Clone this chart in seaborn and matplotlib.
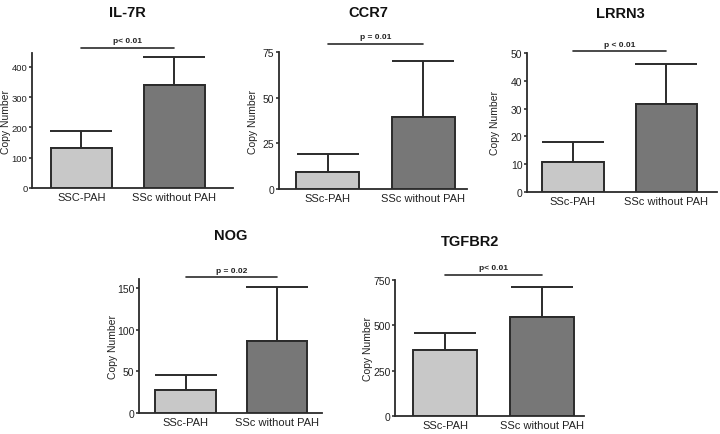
import pandas as pd
import matplotlib
matplotlib.use("Agg")
import matplotlib.pyplot as plt
import seaborn as sns

# ---- data ----
genes = ["IL-7R", "CCR7", "LRRN3", "NOG", "TGFBR2"]
group_labels = {
    "IL-7R": ["SSC-PAH", "SSc without PAH"],
    "CCR7": ["SSc-PAH", "SSc without PAH"],
    "LRRN3": ["SSc-PAH", "SSc without PAH"],
    "NOG": ["SSc-PAH", "SSc without PAH"],
    "TGFBR2": ["SSc-PAH", "SSc without PAH"],
}
means_pah = [132, 9.5, 10.8, 28, 364]
means_nopah = [341, 39.5, 31.7, 86, 546]
sd_pah = [57, 9.8, 7.2, 18, 94]
sd_nopah = [93, 30.5, 14.5, 65, 165]
p_texts = ["p< 0.01", "p = 0.01", "p < 0.01", "p = 0.02", "p< 0.01"]
yticks = [[0, 100, 200, 300, 400], [0, 25, 50, 75], [0, 10, 20, 30, 40, 50],
          [0, 50, 100, 150], [0, 250, 500, 750]]

# ---- layout (pixels, top-left origin) ----
W, H = 720, 435
boxes = {  # left, right, top, bottom
    "IL-7R": (32, 233, 54, 189),
    "CCR7": (279, 467, 53, 190),
    "LRRN3": (527, 717, 54, 193),
    "NOG": (139, 322, 280, 414),
    "TGFBR2": (395, 584, 281, 417),
}
ylims = [446, 75, 50, 161, 750]
xlims = [(-0.53, 1.63), (-0.51, 1.46), (-0.49, 1.54), (-0.51, 1.49), (-0.515, 1.43)]
p_y = [463, 79.4, 50.7, 163, 778]
titles_xy = [(127, 13), (368, 13), (620, 14), (231, 236), (470, 242)]
ylabel_x = [11, 258, 500, 118, 373]  # right edge of the rotated label
ytick_size = [6.8, 7.5, 7.5, 7.5, 7.5]

sns.set_style("ticks")
plt.rcParams["font.family"] = ["Liberation Sans", "DejaVu Sans"]

fig = plt.figure(figsize=(7.2, 4.35), dpi=100)
bar_colors = ["#c8c8c8", "#777777"]
edge = "#2b2b2b"

for i, g in enumerate(genes):
    l, r, t, b = boxes[g]
    ax = fig.add_axes([l / W, 1 - b / H, (r - l) / W, (b - t) / H])
    df = pd.DataFrame({"group": group_labels[g],
                       "value": [means_pah[i], means_nopah[i]]})
    sns.barplot(data=df, x="group", y="value", hue="group",
                palette=bar_colors, edgecolor=edge, linewidth=1.4,
                width=0.66, legend=False, ax=ax, zorder=3)
    ax.errorbar([0, 1], df["value"], yerr=[[0, 0], [sd_pah[i], sd_nopah[i]]],
                fmt="none", ecolor=edge, elinewidth=1.4, capsize=22,
                capthick=1.4, zorder=2)
    ax.set_xlim(*xlims[i])
    ax.set_ylim(0, ylims[i])
    ax.set_yticks(yticks[i])
    ax.set_xlabel("")
    ax.set_ylabel("Copy Number", fontsize=7.5, color="#222222")
    ax.yaxis.set_label_coords((ylabel_x[i] - l) / (r - l), 0.5)
    ax.tick_params(axis="y", labelsize=ytick_size[i], length=2.5, width=1.1,
                   colors="#222222", pad=0.8)
    ax.tick_params(axis="x", labelsize=8, length=0, colors="#222222", pad=3)
    for s in ["left", "bottom"]:
        ax.spines[s].set_linewidth(1.3)
        ax.spines[s].set_color(edge)
    sns.despine(ax=ax)

    # significance line
    ax.plot([0, 1], [p_y[i], p_y[i]], color=edge, lw=1.2, clip_on=False)
    ax.annotate(p_texts[i], xy=(0.5, p_y[i]), xytext=(0, 2.5),
                textcoords="offset points", ha="center", va="bottom",
                fontsize=6, fontweight="bold", color="#222222",
                annotation_clip=False)

    tx, ty = titles_xy[i]
    fig.text(tx / W, 1 - ty / H, g, ha="center", va="center",
             fontsize=10.5, fontweight="bold", color="#111111")

fig.savefig("out.png", dpi=100, facecolor="white")
